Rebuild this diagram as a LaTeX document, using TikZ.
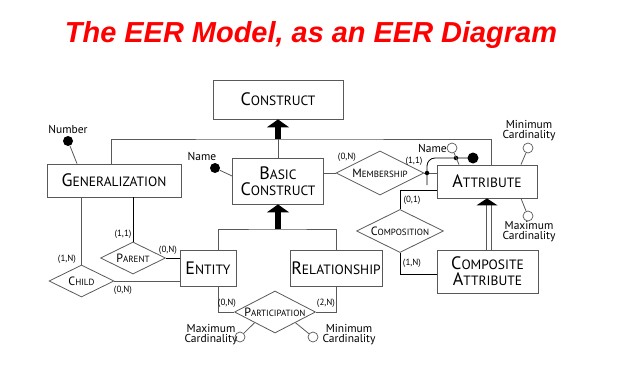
\documentclass[tikz,border=0pt]{standalone}
\usepackage{graphicx}
\usepackage{fontspec}
\setmainfont{PT Sans}
\newfontfamily\titlefont{Liberation Sans}
\usetikzlibrary{shapes.geometric,arrows.meta}
\definecolor{ttl}{RGB}{255,0,0}
\definecolor{ln}{gray}{0.35}
\newcommand\bsc[2]{{\fontsize{18}{16}\selectfont #1}{\fontsize{13.5}{16}\selectfont #2}}
\newcommand\dsc[2]{{\fontsize{12}{11}\selectfont #1}{\fontsize{9}{8}\selectfont #2}}
\begin{document}
\begin{tikzpicture}[x=1pt,y=-1pt,
 box/.style={draw=ln, line width=0.8pt, rectangle, inner sep=0pt, align=center, font=\fontsize{18}{16}\selectfont},
 dia/.style={draw=ln, line width=0.8pt, diamond, inner sep=0pt},
 conn/.style={draw=ln, line width=0.8pt},
 card/.style={font=\fontsize{9}{9}\selectfont, inner sep=0pt},
 attrlab/.style={font=\fontsize{11.5}{10}\selectfont, inner sep=0pt, align=center},
 odot/.style={circle, draw=ln, line width=0.7pt, fill=white, minimum size=10pt, inner sep=0pt},
 bdot/.style={circle, fill=black, minimum size=11pt, inner sep=0pt},
 sdot/.style={circle, fill=black, minimum size=4.5pt, inner sep=0pt},
 bigarrow/.style={line width=6pt, -{Triangle[width=22pt,length=8pt]}},
]
\useasboundingbox (0,0) rectangle (618,369);
\node[text=ttl, inner sep=0pt] (title) at (311,35) {\resizebox{492pt}{!}{\titlefont\bfseries\itshape The EER Model, as an EER Diagram}};

% boxes
\node[box, minimum width=130pt, minimum height=39pt] (construct) at (278,99.5) {\bsc{C}{ONSTRUCT}};
\node[box, minimum width=91pt, minimum height=46pt] (basic) at (278,181) {\bsc{B}{ASIC}\\\bsc{C}{ONSTRUCT}};
\node[box, minimum width=134pt, minimum height=33pt] (gen) at (114,180.5) {\bsc{G}{ENERALIZATION}};
\node[box, minimum width=100pt, minimum height=33pt] (attr) at (487,181.5) {\bsc{A}{TTRIBUTE}};
\node[box, minimum width=101pt, minimum height=43pt] (comp) at (487.5,271.5) {\bsc{C}{OMPOSITE}\\\bsc{A}{TTRIBUTE}};
\node[box, minimum width=56pt, minimum height=36pt] (entity) at (208,268) {\bsc{E}{NTITY}};
\node[box, minimum width=92pt, minimum height=36pt] (rel) at (336,268) {\bsc{R}{ELATIONSHIP}};

% diamonds
\node[dia, minimum width=88pt, minimum height=44pt, label={center:\dsc{M}{EMBERSHIP}}] (mem) at (380,173) {};
\node[dia, minimum width=87pt, minimum height=43pt, label={center:\dsc{C}{OMPOSITION}}] (compd) at (400,231) {};
\node[dia, minimum width=65pt, minimum height=32pt, label={center:\dsc{P}{ARENT}}] (pard) at (133,258) {};
\node[dia, minimum width=65pt, minimum height=32pt, label={center:\dsc{C}{HILD}}] (chd) at (81.5,281) {};
\node[dia, minimum width=81pt, minimum height=42pt, label={center:\dsc{P}{ARTICIPATION}}] (partd) at (275,312) {};

% generalization to construct
\coordinate (j1) at (278,139);
\draw[conn] ([xshift=-3pt]gen.north) |- (j1) -| ([xshift=4pt]attr.north);
\draw[conn] (basic.north) -- (j1);
\draw[bigarrow] (j1) -- (construct.south);

% entity, relationship to basic construct
\coordinate (j2) at (278,229);
\draw[conn] ([xshift=10pt]entity.north) |- (j2) -| (rel.north);
\draw[bigarrow] (j2) -- (basic.south);

% composite attribute to attribute
\draw[conn, line width=0.7pt] ([xshift=-1.5pt]comp.north) -- ++(0,-45);
\draw[conn, line width=0.7pt] ([xshift=3.5pt]comp.north) -- ++(0,-45);
\fill (attr.south) -- ++(-10.5,7) -- ++(21,0) -- cycle;

% membership
\draw[conn] (mem.west) -- (mem.west -| basic.east);
\draw[conn] (mem.east) -- (mem.east -| attr.west);
\node[card] (m1) at (347,157) {(0,N)};
\node[card] (m2) at (414,161) {(1,1)};
\node[sdot] (idd1) at (427,173) {};
\node[sdot] (idd2) at (456,158) {};
\node[bdot] (idend) at (473,158) {};
\draw[black, line width=0.8pt] (427,185) -- (idd1.center) -- (427,166) to[out=90,in=180] (435,158) -- (idend.center);

% attribute attributes
\node[odot] (aname) at (452,148) {};
\node[attrlab, anchor=east] (anamel) at (447,148) {Name};
\draw[conn] (aname) -- ([xshift=-28pt]attr.north);
\node[odot] (amin) at (528,148) {};
\node[attrlab] (aminl) at (529,131) {Minimum\\Cardinality};
\draw[conn] (amin) -- ([xshift=34pt]attr.north);
\node[odot] (amax) at (528,216) {};
\node[attrlab] (amaxl) at (529,232) {Maximum\\Cardinality};
\draw[conn] (amax) -- ([xshift=34pt]attr.south);

% composition
\draw[black, line width=0.8pt] (compd.north) |- ([yshift=-8.5pt]attr.west);
\draw[black, line width=0.8pt] (compd.south) |- ([yshift=-2.5pt]comp.west);
\node[card] (c1) at (412,200) {(0,1)};
\node[card] (c2) at (412,263) {(1,N)};

% basic construct name
\node[bdot, minimum size=10pt] (bname) at (215,168) {};
\node[attrlab] (bnamel) at (202,156) {Name};
\draw[conn] (bname) -- ([yshift=5pt]basic.west);

% generalization number
\node[bdot, minimum size=10pt] (gnum) at (68,141) {};
\node[attrlab] (gnuml) at (68,129) {Number};
\draw[conn] (gnum) -- ([xshift=-37pt]gen.north);

% parent / child
\draw[black, line width=0.8pt] (pard.north) -- (pard.north |- gen.south);
\draw[conn] (chd.north) -- (chd.north |- gen.south);
\draw[black, line width=0.8pt] (pard.east) -- (pard.east -| entity.west);
\draw[conn] (chd.east) -- (chd.east -| entity.west);
\node[card] (p1) at (123,234) {(1,1)};
\node[card] (p2) at (168,250) {(0,N)};
\node[card] (ch1) at (67,259) {(1,N)};
\node[card] (ch2) at (123,290) {(0,N)};

% participation
\draw[conn] (partd.west) -| ([xshift=10pt]entity.south);
\draw[conn] (partd.east) -| (rel.south);
\node[card] (pa1) at (227,303) {(0,N)};
\node[card] (pa2) at (326,303) {(2,N)};
\node[odot] (pmax) at (240,337) {};
\node[attrlab] (pmaxl) at (211,335) {Maximum\\Cardinality};
\draw[conn] (pmax) -- (partd.south west);
\node[odot] (pmin) at (313,337) {};
\node[attrlab] (pminl) at (349,335) {Minimum\\Cardinality};
\draw[conn] (pmin) -- (partd.south east);
\end{tikzpicture}
\end{document}
